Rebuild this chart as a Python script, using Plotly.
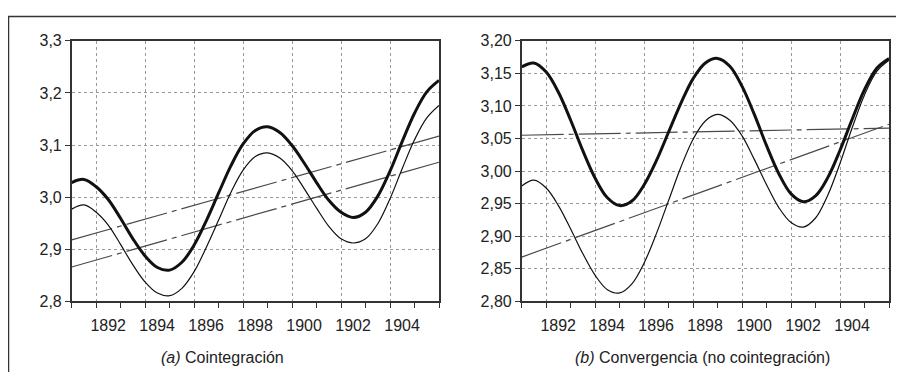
import plotly.graph_objects as go

# ---------------- data ----------------
years = [1891.0, 1891.5, 1892.0, 1892.5, 1893.0, 1893.5, 1894.0, 1894.5, 1895.0, 1895.5,
         1896.0, 1896.5, 1897.0, 1897.5, 1898.0, 1898.5, 1899.0, 1899.5, 1900.0, 1900.5,
         1901.0, 1901.5, 1902.0, 1902.5, 1903.0, 1903.5, 1904.0, 1904.5, 1905.0, 1905.5, 1906.0]

# panel (a) Cointegración
a_thick = [3.028, 3.034, 3.020, 2.995, 2.959, 2.920, 2.887, 2.865, 2.860, 2.875,
           2.908, 2.955, 3.008, 3.060, 3.102, 3.128, 3.135, 3.124, 3.099, 3.065,
           3.028, 2.994, 2.971, 2.961, 2.971, 3.002, 3.050, 3.107, 3.161, 3.202, 3.224]
a_thin = [2.977, 2.985, 2.971, 2.946, 2.909, 2.870, 2.837, 2.816, 2.811, 2.825,
          2.857, 2.904, 2.956, 3.009, 3.052, 3.078, 3.085, 3.075, 3.051, 3.016,
          2.979, 2.944, 2.920, 2.912, 2.920, 2.949, 2.997, 3.055, 3.110, 3.152, 3.176]
trend_years = [1891, 1906]
a_trend_upper = [2.918, 3.117]
a_trend_lower = [2.866, 3.067]

# panel (b) Convergencia (no cointegración)
b_thick = [3.160, 3.166, 3.152, 3.121, 3.078, 3.031, 2.989, 2.959, 2.947, 2.954,
           2.979, 3.016, 3.060, 3.104, 3.142, 3.166, 3.173, 3.161, 3.130, 3.087,
           3.039, 2.996, 2.965, 2.953, 2.962, 2.990, 3.032, 3.080, 3.125, 3.158, 3.173]
b_thin = [2.977, 2.986, 2.974, 2.947, 2.911, 2.873, 2.840, 2.818, 2.813, 2.827,
          2.859, 2.904, 2.955, 3.006, 3.049, 3.077, 3.087, 3.078, 3.054, 3.018,
          2.979, 2.944, 2.921, 2.914, 2.928, 2.963, 3.012, 3.067, 3.117, 3.153, 3.170]
b_trend_flat = [3.055, 3.066]
b_trend_rising = [2.868, 3.072]

x_tick_years = [1892, 1894, 1896, 1898, 1900, 1902, 1904]
x_tick_labels = ["1892", "1894", "1896", "1898", "1900", "1902", "1904"]
a_yticks = [2.8, 2.9, 3.0, 3.1, 3.2, 3.3]
b_yticks = [2.80, 2.85, 2.90, 2.95, 3.00, 3.05, 3.10, 3.15, 3.20]

captions = ["<i>(a)</i> Cointegración", "<i>(b)</i> Convergencia (no cointegración)"]

# ---------------- figure ----------------
# the page body has an 8px margin, so the figure starts at (8, 8) in the window
OX, OY = 8, 8
W, H = 904 - OX, 381 - OY
FONT = "Liberation Sans, Arial, sans-serif"
INK = "#222222"
DASH = "42px,5px,5px,5px"

fig = go.Figure()

def add_panel(xa, ya, thick, thin, trends):
    for tr in trends:
        fig.add_trace(go.Scatter(x=trend_years, y=tr, mode="lines", xaxis=xa, yaxis=ya,
                                 line=dict(color="#4a4a4a", width=1.2, dash=DASH),
                                 showlegend=False, hoverinfo="skip"))
    fig.add_trace(go.Scatter(x=years, y=thin, mode="lines", xaxis=xa, yaxis=ya,
                             line=dict(color="#111111", width=1.2, shape="spline", smoothing=1.0),
                             showlegend=False))
    fig.add_trace(go.Scatter(x=years, y=thick, mode="lines", xaxis=xa, yaxis=ya,
                             line=dict(color="#111111", width=3, shape="spline", smoothing=1.0),
                             showlegend=False))

add_panel("x", "y", a_thick, a_thin, [a_trend_upper, a_trend_lower])
add_panel("x2", "y2", b_thick, b_thin, [b_trend_flat, b_trend_rising])

def px_x(p):
    return (p - OX) / W

def px_y(p):
    return 1 - (p - OY) / H

xcommon = dict(range=[1891, 1906], tickmode="array", tickvals=x_tick_years, ticktext=x_tick_labels,
               ticks="outside", ticklen=5, tickwidth=1, tickcolor="#333333",
               ticklabelshift=12, ticklabelstandoff=4,
               showgrid=True, gridcolor="#9a9a9a", gridwidth=1, griddash="dot",
               showline=True, linecolor="#333333", linewidth=1.5, mirror=True,
               zeroline=False,
               minor=dict(tickmode="linear", tick0=1891, dtick=1, ticks="outside", ticklen=5,
                          tickcolor="#333333", showgrid=False),
               tickfont=dict(family=FONT, size=16, color=INK))
ycommon = dict(tickmode="array", ticks="outside", ticklen=5, tickwidth=1, tickcolor="#333333",
               showgrid=True, gridcolor="#9a9a9a", gridwidth=1, griddash="dot",
               showline=True, linecolor="#333333", linewidth=1.5, mirror=True,
               zeroline=False, tickfont=dict(family=FONT, size=16, color=INK))

fig.update_layout(
    width=W, height=H,
    margin=dict(l=0, r=0, t=0, b=0),
    paper_bgcolor="white", plot_bgcolor="white",
    separators=",.",
    xaxis=dict(domain=[px_x(71.7), px_x(439)], anchor="y", **xcommon),
    yaxis=dict(domain=[px_y(307), px_y(34)], anchor="x", range=[2.8, 3.3],
               tickvals=a_yticks, tickformat=".1f", **ycommon),
    xaxis2=dict(domain=[px_x(521.7), px_x(889)], anchor="y2", **xcommon),
    yaxis2=dict(domain=[px_y(307), px_y(34)], anchor="x2", range=[2.8, 3.2],
                tickvals=b_yticks, tickformat=".2f", **ycommon),
    showlegend=False,
)

# outer frame (top and left edges)
fig.add_shape(type="line", xref="paper", yref="paper", x0=px_x(8), x1=1.0, y0=px_y(8.5), y1=px_y(8.5),
              line=dict(color="#333333", width=1.5))
fig.add_shape(type="line", xref="paper", yref="paper", x0=px_x(8.5), x1=px_x(8.5), y0=px_y(8), y1=0,
              line=dict(color="#333333", width=1.5))

# captions
for cx, txt in zip([px_x(222), px_x(702)], captions):
    fig.add_annotation(text=txt, xref="paper", yref="paper", x=cx, y=px_y(366),
                       showarrow=False, xanchor="center", yanchor="middle",
                       font=dict(family=FONT, size=16, color=INK))

fig.write_html("out.html")
